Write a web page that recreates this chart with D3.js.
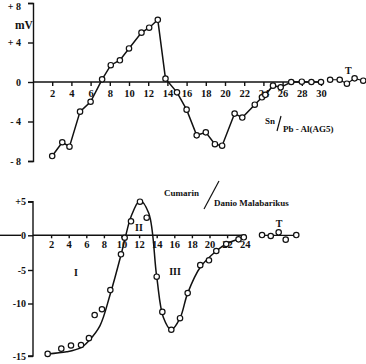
<!DOCTYPE html>
<meta charset="utf-8">
<head>
    <title>Membrane potential curves</title>
    <script type="text/javascript" src="https://d3js.org/d3.v7.min.js"></script>
    <style>
        body { margin: 0; background: #fff; }
        svg text { font-family: "Liberation Serif", "DejaVu Serif", serif; font-weight: bold; fill: #111; }
        .domain, .tick line { stroke: #111; stroke-width: 1.4; }
    </style>
</head>
<body>
<script>
    // ---- top panel: Sn / Pb - Al(AG5) ----
    var topX = [2, 3.05, 3.8, 4.9, 6.0, 7.2, 8.1, 9.05, 10.0, 11.3, 12.1, 13.0, 13.8, 15.0, 16.0, 17.05, 18.0, 18.95, 19.7, 21.0, 21.8, 23.1, 23.85, 24.2, 25.0, 25.8, 26.9, 28.0, 29.0, 30.0];
    var topY = [-7.5, -6.1, -6.55, -3.0, -2.0, 0.27, 1.7, 2.2, 3.4, 5.0, 5.5, 6.3, 0.34, -1.05, -2.8, -5.4, -5.1, -6.3, -6.45, -3.2, -3.6, -2.3, -1.55, -1.3, -0.37, -0.54, 0.0, 0.03, 0.0, 0.0];
    var topTX = [30.95, 31.95, 32.7, 33.5, 34.4];
    var topTY = [0.23, 0.23, -0.17, 0.37, 0.13];
    var topTicksY = [8, 4, 0, -4, -8];
    var topTickLabels = ["+ 8", "+ 4", "0", "- 4", "- 8"];

    // ---- bottom panel: Cumarin / Danio Malabarikus ----
    var botX = [1.61, 3.16, 4.26, 5.4, 6.3, 6.95, 7.78, 8.73, 9.94, 10.36, 11.08, 12.1, 12.86, 14.0, 14.64, 15.66, 16.65, 17.52, 18.95, 19.94, 20.77, 21.9, 23.3, 23.9];
    var botY = [-14.8, -14.3, -14.0, -13.95, -13.3, -11.1, -10.55, -8.0, -2.74, -0.35, 2.08, 5.0, 2.62, -6.0, -10.8, -12.5, -11.4, -8.45, -4.3, -3.6, -2.26, -1.25, -0.58, -0.29];
    var fitX = [1.6, 3.77, 5.4, 6.34, 7.56, 8.7, 9.94, 10.5, 11.08, 12.1, 13.1, 14.0, 14.75, 15.66, 16.65, 17.52, 18.95, 20.77, 21.9, 23.9];
    var fitY = [-14.8, -14.6, -14.2, -13.5, -12.1, -8.7, -2.84, 0.04, 2.77, 5.15, 3.27, -6.0, -11.3, -12.5, -11.4, -8.45, -4.6, -2.26, -1.25, -0.29];
    var botTX = [25.97, 26.96, 27.86, 28.66, 29.86];
    var botTY = [0.04, -0.1, 0.44, -0.63, 0.04];
    var botTicksY = [5, 0, -5, -10, -15];
    var botTickLabels = ["+5", "0", "-5", "-10", "-15"];

    var width = 366, height = 364;
    var svg = d3.select("body").append("svg")
        .attr("width", width)
        .attr("height", height);

    function zip(xs, ys) { return xs.map(function(x, i) { return [x, ys[i]]; }); }

    function dots(g, pts, x, y) {
        g.selectAll(null)
            .data(pts)
            .enter()
            .append("circle")
            .attr("cx", function(d) { return x(d[0]); })
            .attr("cy", function(d) { return y(d[1]); })
            .attr("r", 2.7)
            .attr("fill", "#fff")
            .attr("stroke", "#111")
            .attr("stroke-width", 1.2);
    }

    // ================= top =================
    var x1 = d3.scaleLinear().domain([0, 30]).range([33, 321]);
    var y1 = d3.scaleLinear().domain([-8, 8]).range([161, 3]);
    var g1 = svg.append("g");

    var ya1 = g1.append("g")
        .attr("transform", "translate(33,0)")
        .call(d3.axisLeft(y1).tickValues(topTicksY).tickSize(5).tickPadding(7)
            .tickFormat(function(d, i) { return topTickLabels[i]; }));
    ya1.selectAll("text").style("font-size", "10px");
    // keep the top label inside the frame
    ya1.selectAll(".tick text").filter(function(d) { return d === 8; }).attr("dy", "0.62em");

    var xa1 = g1.append("g")
        .attr("transform", "translate(0," + y1(0) + ")")
        .call(d3.axisBottom(x1).tickValues(d3.range(2, 31, 2)).tickSize(4).tickPadding(4).tickSizeOuter(0));
    xa1.select(".domain").attr("d", "M33,0H323");
    xa1.selectAll("text").style("font-size", "10.5px");

    g1.append("text").attr("x", 15).attr("y", 29).style("font-size", "11.5px").text("mV");

    var line1 = d3.line().x(function(d) { return x1(d[0]); }).y(function(d) { return y1(d[1]); });
    var topPts = zip(topX, topY), topT = zip(topTX, topTY);
    g1.append("path").attr("d", line1(topPts)).attr("fill", "none").attr("stroke", "#111").attr("stroke-width", 1.5);
    g1.append("path").attr("d", line1(topT)).attr("fill", "none").attr("stroke", "#111").attr("stroke-width", 1.2);
    dots(g1, topPts, x1, y1);
    dots(g1, topT, x1, y1);
    g1.append("text").attr("x", x1(32.85)).attr("y", 74).attr("text-anchor", "middle").style("font-size", "10px").text("T");

    g1.append("text").attr("x", 265).attr("y", 124).style("font-size", "9px").text("Sn");
    g1.append("line").attr("x1", 281).attr("y1", 116).attr("x2", 277).attr("y2", 131).attr("stroke", "#111").attr("stroke-width", 1.2);
    g1.append("text").attr("x", 283).attr("y", 132).style("font-size", "9px").text("Pb - Al(AG5)");

    // ================= bottom =================
    var x2 = d3.scaleLinear().domain([0, 24]).range([33.5, 244.7]);
    var y2 = d3.scaleLinear().domain(botTicksY).range([201.7, 235.3, 270, 303.5, 356]);
    var g2 = svg.append("g");

    var ya2 = g2.append("g")
        .attr("transform", "translate(33,0)")
        .call(d3.axisLeft(y2).tickValues(botTicksY).tickSize(5).tickPadding(2)
            .tickFormat(function(d, i) { return botTickLabels[i]; }));
    ya2.selectAll("text").style("font-size", "10px");
    ya2.select(".domain").attr("d", "M-5," + y2(5) + "H0V" + y2(-15) + "H-5");

    var xa2 = g2.append("g")
        .attr("transform", "translate(0," + y2(0) + ")")
        .call(d3.axisBottom(x2).tickValues(d3.range(2, 25, 2)).tickSize(3).tickPadding(2).tickSizeOuter(0));
    xa2.select(".domain").attr("d", "M33,0H246");
    xa2.selectAll("text").style("font-size", "10.5px");
    g2.append("line").attr("x1", 0).attr("x2", 21).attr("y1", y2(0)).attr("y2", y2(0)).attr("stroke", "#111").attr("stroke-width", 1.4);

    var line2 = d3.line().x(function(d) { return x2(d[0]); }).y(function(d) { return y2(d[1]); });
    g2.append("path").attr("d", line2.curve(d3.curveCatmullRom.alpha(0.5))(zip(fitX, fitY)))
        .attr("fill", "none").attr("stroke", "#111").attr("stroke-width", 1.5);
    var botT = zip(botTX, botTY);
    g2.append("line").attr("x1", x2(botTX[0])).attr("x2", x2(botTX[4])).attr("y1", y2(0)).attr("y2", y2(0))
        .attr("stroke", "#111").attr("stroke-width", 1.2);
    dots(g2, zip(botX, botY), x2, y2);
    dots(g2, botT, x2, y2);
    g2.append("text").attr("x", x2(27.9)).attr("y", 227).attr("text-anchor", "middle").style("font-size", "10px").text("T");

    g2.append("text").attr("x", 76).attr("y", 276).attr("text-anchor", "middle").style("font-size", "10px").text("I");
    g2.append("text").attr("x", 139).attr("y", 231).attr("text-anchor", "middle").style("font-size", "10px").text("II");
    g2.append("text").attr("x", 175).attr("y", 275).attr("text-anchor", "middle").style("font-size", "10px").text("III");

    g2.append("text").attr("x", 164).attr("y", 196).style("font-size", "9px").text("Cumarin");
    g2.append("line").attr("x1", 219).attr("y1", 181).attr("x2", 204).attr("y2", 209).attr("stroke", "#111").attr("stroke-width", 1.2);
    g2.append("text").attr("x", 214).attr("y", 206).style("font-size", "9px").text("Danio Malabarikus");
</script>
</body>
</html>
